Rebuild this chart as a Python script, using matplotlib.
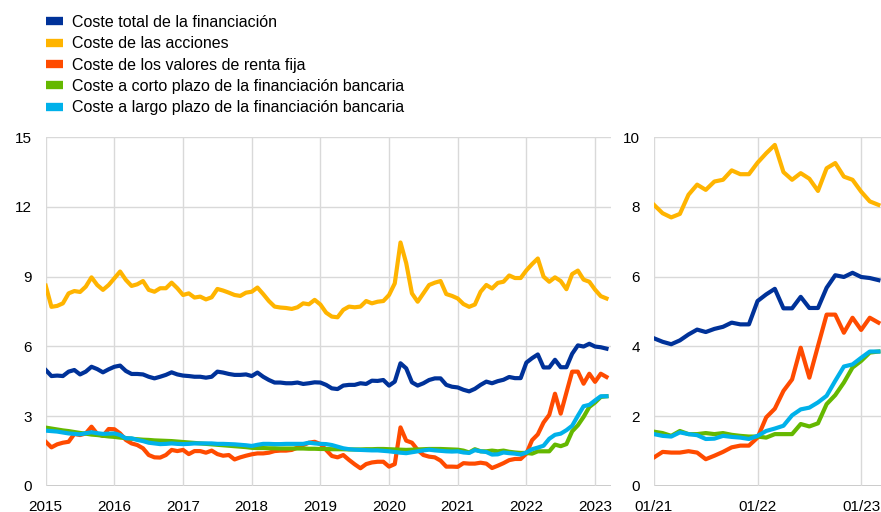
import numpy as np
from matplotlib import pyplot as plt
from matplotlib.lines import Line2D

plt.rcParams['font.family'] = ['Liberation Sans', 'DejaVu Sans']

# monthly data, Jan 2015 - Mar 2023
coste_total = [
    4.98, 4.72, 4.74, 4.72, 4.91, 4.98, 4.79, 4.91, 5.12, 5.02, 4.88, 5.01,
    5.12, 5.17, 4.94, 4.81, 4.81, 4.79, 4.69, 4.62, 4.69, 4.77, 4.88, 4.79,
    4.74, 4.72, 4.69, 4.69, 4.65, 4.69, 4.91, 4.87, 4.81, 4.77, 4.77, 4.79,
    4.72, 4.87, 4.69, 4.55, 4.44, 4.44, 4.41, 4.41, 4.44, 4.38, 4.41, 4.45,
    4.44, 4.34, 4.19, 4.16, 4.31, 4.34, 4.34, 4.41, 4.38, 4.52, 4.51, 4.55,
    4.31, 4.48, 5.27, 5.05, 4.45, 4.31, 4.41, 4.55, 4.62, 4.62, 4.34, 4.26,
    4.23, 4.13, 4.06, 4.17, 4.34, 4.48, 4.41, 4.50, 4.56, 4.68, 4.63, 4.63,
    5.30, 5.49, 5.65, 5.09, 5.09, 5.42, 5.10, 5.10, 5.68, 6.04, 5.99, 6.11,
    5.99, 5.96, 5.90]
coste_acciones = [
    8.61, 7.70, 7.74, 7.85, 8.28, 8.38, 8.34, 8.57, 8.97, 8.64, 8.43, 8.64,
    8.93, 9.22, 8.86, 8.60, 8.67, 8.81, 8.43, 8.35, 8.50, 8.50, 8.74, 8.50,
    8.21, 8.28, 8.10, 8.14, 8.02, 8.11, 8.47, 8.40, 8.31, 8.21, 8.17, 8.31,
    8.35, 8.53, 8.25, 7.95, 7.71, 7.67, 7.65, 7.61, 7.68, 7.85, 7.81, 8.00,
    7.80, 7.45, 7.28, 7.25, 7.57, 7.71, 7.68, 7.71, 7.95, 7.85, 7.92, 7.95,
    8.21, 8.71, 10.47, 9.58, 8.28, 7.92, 8.28, 8.64, 8.74, 8.81, 8.25, 8.17,
    8.06, 7.82, 7.70, 7.80, 8.35, 8.64, 8.49, 8.73, 8.78, 9.05, 8.94, 8.94,
    9.27, 9.54, 9.78, 9.00, 8.78, 8.97, 8.81, 8.46, 9.11, 9.26, 8.87, 8.78,
    8.44, 8.16, 8.06]
coste_renta_fija = [
    1.89, 1.65, 1.78, 1.85, 1.89, 2.23, 2.18, 2.25, 2.54, 2.23, 2.14, 2.44,
    2.43, 2.25, 1.97, 1.82, 1.75, 1.61, 1.32, 1.22, 1.21, 1.32, 1.54, 1.49,
    1.54, 1.36, 1.49, 1.49, 1.42, 1.51, 1.36, 1.29, 1.32, 1.13, 1.22, 1.29,
    1.35, 1.39, 1.39, 1.42, 1.49, 1.51, 1.51, 1.54, 1.64, 1.75, 1.85, 1.89,
    1.79, 1.54, 1.28, 1.22, 1.32, 1.11, 0.92, 0.75, 0.93, 1.00, 1.03, 1.03,
    0.82, 0.93, 2.51, 1.94, 1.85, 1.54, 1.32, 1.25, 1.22, 1.08, 0.82, 0.82,
    0.81, 0.97, 0.95, 0.95, 0.99, 0.95, 0.76, 0.86, 0.97, 1.10, 1.15, 1.15,
    1.38, 1.96, 2.21, 2.72, 3.05, 3.96, 3.10, 4.01, 4.91, 4.91, 4.39, 4.82,
    4.47, 4.82, 4.68]
coste_corto_plazo = [
    2.50, 2.46, 2.42, 2.38, 2.35, 2.31, 2.27, 2.24, 2.20, 2.18, 2.15, 2.12,
    2.10, 2.07, 2.05, 2.02, 2.00, 1.98, 1.97, 1.95, 1.94, 1.93, 1.92, 1.90,
    1.88, 1.86, 1.84, 1.82, 1.80, 1.78, 1.76, 1.74, 1.72, 1.70, 1.68, 1.66,
    1.63, 1.62, 1.62, 1.61, 1.61, 1.60, 1.60, 1.60, 1.60, 1.60, 1.59, 1.59,
    1.58, 1.58, 1.57, 1.57, 1.57, 1.56, 1.56, 1.56, 1.57, 1.57, 1.58, 1.58,
    1.57, 1.56, 1.55, 1.54, 1.55, 1.56, 1.57, 1.58, 1.58, 1.58, 1.57, 1.56,
    1.55, 1.51, 1.43, 1.57, 1.48, 1.48, 1.51, 1.48, 1.51, 1.46, 1.43, 1.41,
    1.41, 1.38, 1.48, 1.48, 1.48, 1.77, 1.70, 1.79, 2.34, 2.60, 2.96, 3.39,
    3.58, 3.82, 3.85]
coste_largo_plazo = [
    2.37, 2.35, 2.33, 2.29, 2.25, 2.23, 2.21, 2.26, 2.30, 2.26, 2.23, 2.24,
    2.25, 2.18, 2.04, 2.04, 1.97, 1.92, 1.85, 1.82, 1.79, 1.80, 1.82, 1.80,
    1.79, 1.80, 1.82, 1.82, 1.82, 1.82, 1.80, 1.80, 1.79, 1.78, 1.76, 1.74,
    1.71, 1.76, 1.80, 1.80, 1.79, 1.79, 1.80, 1.80, 1.80, 1.80, 1.85, 1.82,
    1.80, 1.79, 1.75, 1.68, 1.61, 1.57, 1.55, 1.54, 1.53, 1.52, 1.52, 1.50,
    1.48, 1.45, 1.42, 1.40, 1.44, 1.48, 1.52, 1.55, 1.52, 1.50, 1.48, 1.47,
    1.48, 1.43, 1.41, 1.53, 1.48, 1.45, 1.34, 1.35, 1.43, 1.40, 1.38, 1.34,
    1.43, 1.57, 1.64, 1.72, 2.02, 2.19, 2.24, 2.39, 2.58, 3.01, 3.42, 3.48,
    3.67, 3.85, 3.85]

series = [
    ('Coste total de la financiación', coste_total, '#003299'),
    ('Coste de las acciones', coste_acciones, '#ffb400'),
    ('Coste de los valores de renta fija', coste_renta_fija, '#ff4b00'),
    ('Coste a corto plazo de la financiación bancaria', coste_corto_plazo, '#65b800'),
    ('Coste a largo plazo de la financiación bancaria', coste_largo_plazo, '#00b1ea'),
]

years = ['2015', '2016', '2017', '2018', '2019', '2020', '2021', '2022', '2023']
zoom_labels = ['01/21', '01/22', '01/23']
zoom_start = 72  # Jan 2021

grid_color = '#d9d9d9'
lw = 3.0
fs = 11

fig = plt.figure(figsize=(8.81, 5.12), dpi=100)
ax1 = fig.add_axes([0.0519, 0.0514, 0.6417, 0.6805])
ax2 = fig.add_axes([0.7423, 0.0514, 0.2577, 0.6805])

x_all = np.arange(len(coste_total))
for name, vals, color in series:
    ax1.plot(x_all, vals, color=color, lw=lw, solid_joinstyle='round')
    ax2.plot(x_all[zoom_start:] - zoom_start, vals[zoom_start:], color=color, lw=lw,
             solid_joinstyle='round')

ax1.set_xlim(0, 98.8)
ax1.set_ylim(0, 15)
ax1.set_yticks(np.arange(0, 16, 3))
ax1.set_xticks(np.arange(0, 12 * len(years), 12))
ax1.set_xticklabels(years)

ax2.set_xlim(0, 26.3)
ax2.set_ylim(0, 10)
ax2.set_yticks(np.arange(0, 11, 2))
ax2.set_xticks([0, 12, 24])
ax2.set_xticklabels(zoom_labels)

for ax in (ax1, ax2):
    for s in ax.spines.values():
        s.set_visible(False)
    ax.grid(True, color=grid_color, lw=1)
    ax.set_axisbelow(True)
    ax.tick_params(length=0, labelsize=fs, colors='black')
    ax.tick_params(axis='x', pad=10)
    ax.tick_params(axis='y', pad=10)
    ax.axhline(0, color='#bfbfbf', lw=1.2, zorder=0.5)

handles = [Line2D([0], [0], color=c, lw=6, solid_capstyle='butt') for _, _, c in series]
labels = [n for n, _, _ in series]
fig.legend(handles, labels, loc='upper left', bbox_to_anchor=(0.04, 0.993),
           frameon=False, fontsize=11.5, handlelength=1.06, handletextpad=0.56,
           labelspacing=0.4, borderaxespad=0.3)

fig.savefig('out.png', dpi=100)
